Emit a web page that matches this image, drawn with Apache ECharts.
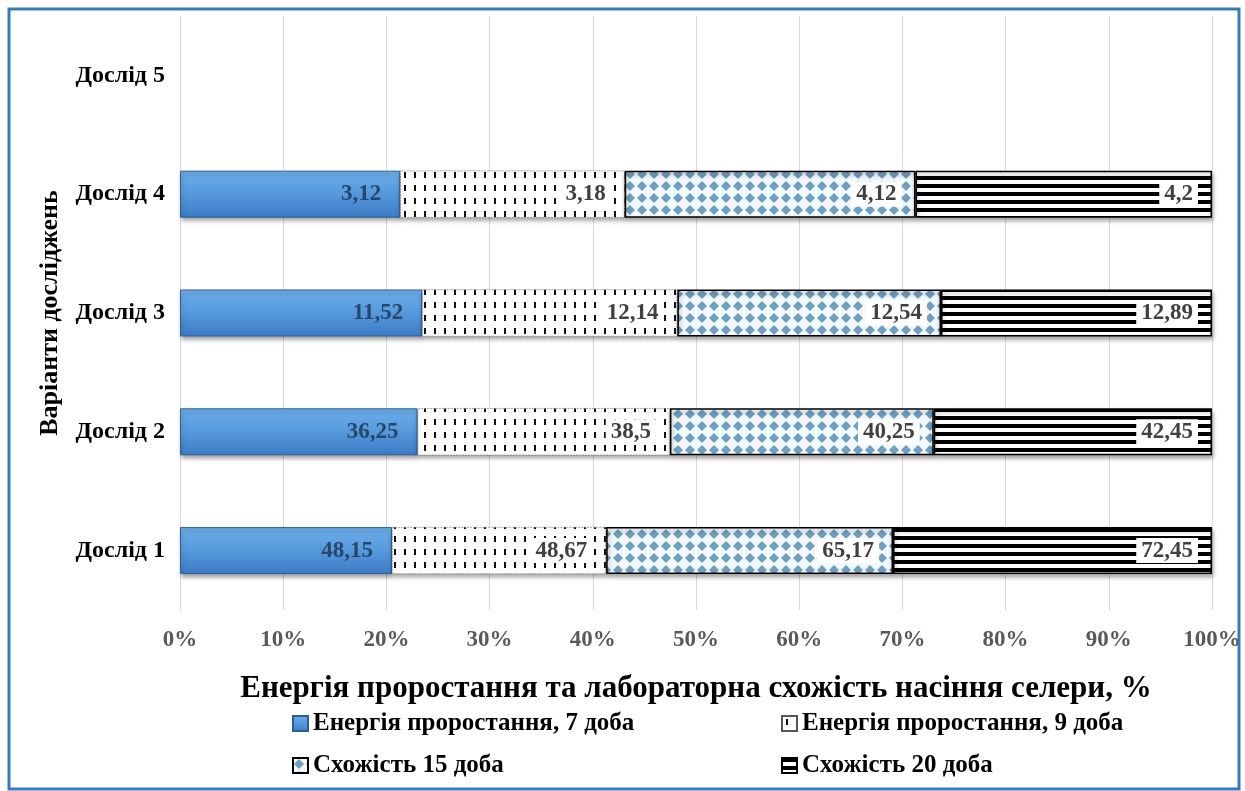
<!DOCTYPE html>
<html>
<head>
<meta charset="utf-8">
<script src="https://cdn.jsdelivr.net/npm/echarts@6/dist/echarts.min.js"></script>
<style>
html,body{margin:0;padding:0;background:#fff;}
#chart{width:1245px;height:791px;}
</style>
</head>
<body>
<div id="chart"></div>
<script>
// ---- data ----
var categories = ['Дослід 1', 'Дослід 2', 'Дослід 3', 'Дослід 4', 'Дослід 5'];
var seriesNames = ['Енергія проростання, 7 доба', 'Енергія проростання, 9 доба', 'Схожість 15 доба', 'Схожість 20 доба'];
var energy7 = [48.15, 36.25, 11.52, 3.12, null];
var energy9 = [48.67, 38.5, 12.14, 3.18, null];
var germ15 = [65.17, 40.25, 12.54, 4.12, null];
var germ20 = [72.45, 42.45, 12.89, 4.2, null];
var xTickLabels = ['0%', '10%', '20%', '30%', '40%', '50%', '60%', '70%', '80%', '90%', '100%'];
var xAxisTitle = 'Енергія проростання та лабораторна схожість насіння селери, %';
var yAxisTitle = 'Варіанти досліджень';

var raw = [energy7, energy9, germ15, germ20];

// ---- percent stacking (100% stacked bars) ----
var totals = categories.map(function (c, i) {
  var s = 0, any = false;
  raw.forEach(function (arr) { if (arr[i] != null) { s += arr[i]; any = true; } });
  return any ? s : null;
});
function pct(arr) {
  return arr.map(function (v, i) { return (v == null || !totals[i]) ? '-' : v / totals[i] * 100; });
}

// ---- pattern tiles ----
function tile(w, h, draw) {
  var c = document.createElement('canvas');
  c.width = w; c.height = h;
  draw(c.getContext('2d'));
  return c;
}
var dotsTile = tile(10, 13, function (g) {
  g.fillStyle = '#ffffff'; g.fillRect(0, 0, 10, 13);
  g.fillStyle = '#111111'; g.fillRect(4, 3, 2, 6);
});
var diamondTile = tile(12, 12, function (g) {
  g.fillStyle = '#f2f8fc'; g.fillRect(0, 0, 12, 12);
  g.fillStyle = '#6f9fbf';
  g.beginPath(); g.moveTo(6, 1); g.lineTo(11, 6); g.lineTo(6, 11); g.lineTo(1, 6); g.closePath(); g.fill();
});
var stripeTile = tile(8, 8, function (g) {
  g.fillStyle = '#ffffff'; g.fillRect(0, 0, 8, 8);
  g.fillStyle = '#000000'; g.fillRect(0, 0, 8, 4);
});

var serif = '"Liberation Serif", "DejaVu Serif", serif';
var shadow = { shadowColor: 'rgba(0,0,0,0.35)', shadowBlur: 4, shadowOffsetY: 3, shadowOffsetX: 1 };

var styles = [
  Object.assign({
    color: { type: 'linear', x: 0, y: 0, x2: 0, y2: 1, colorStops: [
      { offset: 0, color: '#6eaeea' }, { offset: 0.5, color: '#5599dc' }, { offset: 1, color: '#3c7bc4' }] },
    borderColor: '#2e5f92', borderWidth: 1
  }, shadow),
  Object.assign({ color: { image: dotsTile, repeat: 'repeat' }, borderColor: '#555', borderWidth: 0.5, borderType: 'dashed' }, shadow),
  Object.assign({ color: { image: diamondTile, repeat: 'repeat' }, borderColor: '#000', borderWidth: 1.5 }, shadow),
  Object.assign({ color: { image: stripeTile, repeat: 'repeat' }, borderColor: '#000', borderWidth: 1.5 }, shadow)
];

function fmt(v) { return String(v).replace('.', ','); }

var series = raw.map(function (arr, k) {
  return {
    name: seriesNames[k],
    type: 'bar',
    stack: 'total',
    barWidth: 47,
    data: pct(arr),
    itemStyle: styles[k],
    label: {
      show: true,
      position: 'insideRight',
      distance: 14,
      formatter: function (p) { return fmt(arr[p.dataIndex]); },
      fontFamily: serif,
      fontWeight: 'bold',
      fontSize: 23,
      color: k === 0 ? '#27466b' : '#404040',
      backgroundColor: k === 0 ? 'transparent' : '#ffffff',
      padding: [1, 5]
    },
    emphasis: { disabled: true }
  };
});

var legendPos = [[287, 706], [776, 706], [287, 748], [776, 748]];
var legends = seriesNames.map(function (n, k) {
  return {
    data: [n],
    icon: 'rect',
    left: legendPos[k][0],
    top: legendPos[k][1],
    itemWidth: 15, itemHeight: 15,
    itemGap: 6,
    selectedMode: false,
    textStyle: { fontFamily: serif, fontWeight: 'bold', fontSize: 25, color: '#000' }
  };
});

var chart = echarts.init(document.getElementById('chart'), null, { renderer: 'canvas' });
chart.setOption({
  animation: false,
  backgroundColor: '#ffffff',
  grid: { left: 180, right: 33, top: 16, bottom: 181 },
  legend: legends,
  xAxis: {
    type: 'value', min: 0, max: 100, interval: 10,
    name: xAxisTitle,
    nameLocation: 'middle',
    nameGap: 63,
    nameTextStyle: { fontFamily: serif, fontWeight: 'bold', fontSize: 31, color: '#000' },
    axisLine: { show: false }, axisTick: { show: false },
    splitLine: { show: true, lineStyle: { color: '#d9d9d9', width: 1 } },
    axisLabel: {
      margin: 19,
      formatter: function (v) { return xTickLabels[Math.round(v / 10)]; },
      fontFamily: serif, fontWeight: 'bold', fontSize: 23, color: '#595959'
    }
  },
  yAxis: {
    type: 'category', data: categories,
    name: yAxisTitle,
    nameLocation: 'middle',
    nameRotate: 90,
    nameGap: 117,
    nameTextStyle: { fontFamily: serif, fontWeight: 'bold', fontSize: 26, color: '#000' },
    axisLine: { show: true, lineStyle: { color: '#d9d9d9' } },
    axisTick: { show: false },
    axisLabel: { margin: 15, fontFamily: serif, fontWeight: 'bold', fontSize: 24, color: '#000' }
  },
  graphic: [{
    type: 'rect', silent: true, z: 100,
    shape: { x: 9, y: 9, width: 1230, height: 780 },
    style: { fill: 'none', stroke: '#3b78c3', lineWidth: 3 }
  }],
  series: series
});
</script>
</body>
</html>
